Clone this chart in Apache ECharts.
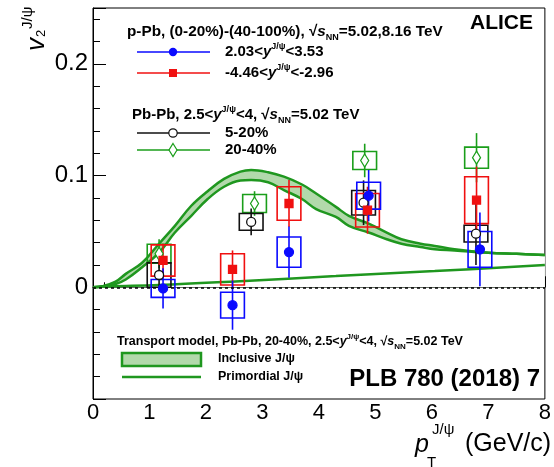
<!DOCTYPE html>
<html>
<head>
<meta charset="utf-8">
<script src="https://cdn.jsdelivr.net/npm/echarts@6/dist/echarts.min.js"></script>
<style>
  html, body, #main { margin: 0; width: 554px; height: 467px; background: #fff; }
</style>
</head>
<body>
<div id="main"></div>
<script>
// p-Pb, forward rapidity (blue) and backward rapidity (red)
const ptBlue = [1.24, 2.47, 3.47, 4.88, 6.85];
const v2Blue = [-0.001, -0.016, 0.0315, 0.082, 0.034];
const statBlue = [0.018, 0.022, 0.023, 0.023, 0.033];
const sysBlue = [0.008, 0.0115, 0.0135, 0.012, 0.016];

const ptRed = [1.24, 2.47, 3.47, 4.86, 6.79];
const v2Red = [0.024, 0.016, 0.075, 0.069, 0.078];
const statRed = [0.015, 0.017, 0.021, 0.021, 0.03];
const sysRed = [0.014, 0.014, 0.015, 0.015, 0.021];

// Pb-Pb 5-20% (black) and 20-40% (green)
const ptBlack = [1.17, 2.80, 4.79, 6.78];
const v2Black = [0.011, 0.0585, 0.0757, 0.048];
const statBlack = [0.012, 0.012, 0.02, 0.028];
const sysBlack = [0.011, 0.0075, 0.011, 0.0075];

const ptGreen = [1.17, 2.86, 4.81, 6.79];
const v2Green = [0.030, 0.075, 0.1135, 0.116];
const statGreen = [0.013, 0.011, 0.015, 0.022];
const sysGreen = [0.0085, 0.008, 0.008, 0.0095];

// transport model
const bandX = [0, 0.17, 0.4, 0.58, 0.87, 1.17, 1.45, 1.74, 2.03, 2.32, 2.61, 2.8, 3.1, 3.38, 3.7, 3.95, 4.3, 4.53, 4.88, 5.2, 5.46, 5.8, 6.05, 6.4, 7.0, 7.5, 8];
const bandHigh = [0, 0.001, 0.005, 0.012, 0.022, 0.039, 0.055, 0.073, 0.086, 0.097, 0.1035, 0.105, 0.103, 0.099, 0.092, 0.084, 0.072, 0.064, 0.057, 0.049, 0.043, 0.039, 0.037, 0.034, 0.031, 0.030, 0.029];
const bandLow = [0, 0.001, 0.003, 0.007, 0.018, 0.031, 0.049, 0.064, 0.079, 0.090, 0.0955, 0.096, 0.094, 0.087, 0.079, 0.070, 0.063, 0.055, 0.049, 0.043, 0.039, 0.036, 0.034, 0.033, 0.031, 0.030, 0.029];
const primX = [0, 0.3, 1.17, 2.6, 4.3, 4.83, 6.05, 8];
const primY = [0, 0.0008, 0.002, 0.0055, 0.010, 0.0115, 0.0145, 0.020];

const xTicks = [0, 8];
const yTicks = [-0.1, 0.25];

const FONT = 'Liberation Sans, Arial, Helvetica, sans-serif';
const BLUE = '#0a0aff', RED = '#f01010', BLACK = '#111', GREEN = '#1a9e1a';
const CURVE = '#1f971f', BANDFILL = '#b2d9ab';
const boxHalf = 0.21;

var chart = echarts.init(document.getElementById('main'), null, { renderer: 'canvas' });

function rows(pt, v, st, sy) {
  return pt.map((x, i) => [x, v[i], st[i], sy[i]]);
}

function errBox(color) {
  return function (params, api) {
    const x = api.value(0), y = api.value(1), st = api.value(2), sy = api.value(3);
    const a = api.coord([x - boxHalf, y + sy]);
    const b = api.coord([x + boxHalf, y - sy]);
    const t = api.coord([x, y + st]);
    const u = api.coord([x, y - st]);
    return {
      type: 'group',
      children: [
        { type: 'rect', shape: { x: a[0], y: a[1], width: b[0] - a[0], height: b[1] - a[1] },
          style: { fill: 'none', stroke: color, lineWidth: 1.6 } },
        { type: 'line', shape: { x1: t[0], y1: t[1], x2: u[0], y2: u[1] },
          style: { stroke: color, lineWidth: 1.6 } }
      ]
    };
  };
}

function errSeries(color, pt, v, st, sy) {
  return { type: 'custom', renderItem: errBox(color), data: rows(pt, v, st, sy), z: 3, silent: true };
}

function markSeries(symbol, size, color, fill, pt, v) {
  return {
    type: 'scatter', symbol: symbol, symbolSize: size, z: 5, silent: true,
    itemStyle: { color: fill, borderColor: color, borderWidth: 1.3, opacity: 1 },
    data: pt.map((x, i) => [x, v[i]])
  };
}

function modelLine(name, xs, ys, area) {
  return {
    type: 'line', name: name, smooth: 0.4, showSymbol: false, silent: true, z: 1,
    lineStyle: { color: CURVE, width: 2.5 },
    areaStyle: area ? { color: area, opacity: 1, origin: 0 } : undefined,
    data: xs.map((x, i) => [x, ys[i]])
  };
}

const rich = function (fs) {
  return {
    b: { fontFamily: FONT, fontWeight: 'bold', fontSize: fs, lineHeight: fs + 5, color: '#000' },
    i: { fontFamily: FONT, fontWeight: 'bold', fontStyle: 'italic', fontSize: fs, lineHeight: fs + 5, color: '#000' },
    sup: { fontFamily: FONT, fontWeight: 'bold', fontSize: Math.round(fs * 0.62), lineHeight: Math.round(fs * 0.62), verticalAlign: 'top', color: '#000' },
    sub: { fontFamily: FONT, fontWeight: 'bold', fontSize: Math.round(fs * 0.62), lineHeight: Math.round(fs * 0.62), verticalAlign: 'bottom', color: '#000' }
  };
};

function label(x, y, text, fs) {
  return { type: 'text', x: x, y: y, z: 20,
    style: { text: text, rich: rich(fs), verticalAlign: 'middle', align: 'left' } };
}

function legendLine(y, color, symbol) {
  const items = [{ type: 'line', shape: { x1: 137, y1: y, x2: 210, y2: y }, style: { stroke: color, lineWidth: 1.6 }, z: 20 }];
  if (symbol === 'circle') items.push({ type: 'circle', shape: { cx: 173, cy: y, r: 4.2 }, style: { fill: color }, z: 21 });
  if (symbol === 'rect') items.push({ type: 'rect', shape: { x: 169, y: y - 4, width: 8, height: 8 }, style: { fill: color }, z: 21 });
  if (symbol === 'open') items.push({ type: 'circle', shape: { cx: 173, cy: y, r: 4.2 }, style: { fill: '#fff', stroke: color, lineWidth: 1.2 }, z: 21 });
  if (symbol === 'diamond') items.push({ type: 'polygon', shape: { points: [[173, y - 6.5], [177, y], [173, y + 6.5], [169, y]] }, style: { fill: '#fff', stroke: color, lineWidth: 1.2 }, z: 21 });
  return items;
}

const graphics = [].concat(
  [label(127, 32, '{b|p-Pb, (0-20%)-(40-100%), √}{i|s}{sub|NN}{b|=5.02,8.16 TeV}', 15.3)],
  legendLine(52, BLUE, 'circle'),
  [label(225, 52, '{b|2.03<}{i|y}{sup|J/ψ}{b|<3.53}', 15)],
  legendLine(73, RED, 'rect'),
  [label(225, 73, '{b|-4.46<}{i|y}{sup|J/ψ}{b|<-2.96}', 15)],
  [label(132, 115, '{b|Pb-Pb, 2.5<}{i|y}{sup|J/ψ}{b|<4, √}{i|s}{sub|NN}{b|=5.02 TeV}', 15)],
  legendLine(133, BLACK, 'open'),
  [label(225, 133, '{b|5-20%}', 15)],
  legendLine(150, GREEN, 'diamond'),
  [label(225, 150, '{b|20-40%}', 15)],
  [{ type: 'text', x: 533, y: 23, z: 20, style: { text: 'ALICE', fontFamily: FONT, fontWeight: 'bold', fontSize: 21, fill: '#000', align: 'right', verticalAlign: 'middle' } }],
  [label(117, 342, '{b|Transport model, Pb-Pb, 20-40%, 2.5<}{i|y}{sup|J/ψ}{b|<4, √}{i|s}{sub|NN}{b|=5.02 TeV}', 12.5)],
  [{ type: 'rect', shape: { x: 122, y: 353, width: 79, height: 13 }, style: { fill: BANDFILL, stroke: CURVE, lineWidth: 2.5 }, z: 20 }],
  [label(218, 359, '{b|Inclusive J/ψ}', 12.5)],
  [{ type: 'line', shape: { x1: 122, y1: 377, x2: 201, y2: 377 }, style: { stroke: CURVE, lineWidth: 2.5 }, z: 20 }],
  [label(218, 377, '{b|Primordial J/ψ}', 12.5)],
  [{ type: 'text', x: 540, y: 379, z: 20, style: { text: 'PLB 780 (2018) 7', fontFamily: FONT, fontWeight: 'bold', fontSize: 24, fill: '#000', align: 'right', verticalAlign: 'middle' } }],
  // x-axis title
  [{ type: 'text', x: 415, y: 445, z: 20, style: { text: 'p', fontFamily: FONT, fontStyle: 'italic', fontSize: 25, fill: '#000', align: 'left', verticalAlign: 'middle' } },
   { type: 'text', x: 432, y: 430, z: 20, style: { text: 'J/ψ', fontFamily: FONT, fontSize: 15, fill: '#000', align: 'left', verticalAlign: 'middle' } },
   { type: 'text', x: 427, y: 463, z: 20, style: { text: 'T', fontFamily: FONT, fontSize: 15, fill: '#000', align: 'left', verticalAlign: 'middle' } },
   { type: 'text', x: 465, y: 444, z: 20, style: { text: '(GeV/c)', fontFamily: FONT, fontSize: 25, fill: '#000', align: 'left', verticalAlign: 'middle' } }],
  // y-axis title, rotated
  [{ type: 'group', x: 46, y: 51, rotation: Math.PI / 2, z: 20, children: [
    { type: 'text', x: 0, y: 4, style: { text: 'v', fontFamily: FONT, fontStyle: 'italic', fontSize: 26, fill: '#000', align: 'left', verticalAlign: 'bottom' } },
    { type: 'text', x: 14, y: 2, style: { text: '2', fontFamily: FONT, fontSize: 13, fill: '#000', align: 'left', verticalAlign: 'bottom' } },
    { type: 'text', x: 22, y: -11, style: { text: 'J/ψ', fontFamily: FONT, fontSize: 15, fill: '#000', align: 'left', verticalAlign: 'bottom' } }
  ] }]
);

var option = {
  animation: false,
  backgroundColor: '#fff',
  grid: { left: 93, right: 2, top: 8, bottom: 68, show: true, borderColor: '#000', borderWidth: 1, backgroundColor: 'transparent' },
  xAxis: {
    type: 'value', min: xTicks[0], max: xTicks[1], interval: 1,
    axisLine: { show: true, lineStyle: { color: '#000', width: 1 } },
    axisTick: { show: true, inside: true, length: 11, lineStyle: { color: '#000' } },
    minorTick: { show: true, splitNumber: 5, length: 5, lineStyle: { color: '#000' } },
    axisLabel: { fontFamily: FONT, fontSize: 22, color: '#000', margin: 3 },
    splitLine: { show: false }
  },
  yAxis: [{
    type: 'value', min: yTicks[0], max: yTicks[1], interval: 0.1,
    axisLine: { show: true, lineStyle: { color: '#000', width: 1 } },
    axisTick: { show: true, inside: true, length: 13, lineStyle: { color: '#000' } },
    axisLabel: {
      fontFamily: FONT, fontSize: 24, color: '#000', margin: 5,
      formatter: function (v) {
        if (v < -0.05 || v > 0.21) return '';
        return String(Math.round(v * 10) / 10);
      }
    },
    splitLine: { show: false }
  }, {
    type: 'value', position: 'left', min: yTicks[0], max: yTicks[1], interval: 0.02,
    axisLine: { show: false },
    axisTick: { show: true, inside: true, length: 7, lineStyle: { color: '#000' } },
    axisLabel: { show: false },
    splitLine: { show: false }
  }],
  graphic: graphics,
  series: [
    // inclusive band: fill under the upper curve, then blank out under the lower curve
    modelLine('inclusiveHigh', bandX, bandHigh, BANDFILL),
    modelLine('inclusiveLow', bandX, bandLow, '#ffffff'),
    {
      type: 'line', name: 'primordial', smooth: 0.4, showSymbol: false, silent: true, z: 2,
      lineStyle: { color: CURVE, width: 2.5 },
      data: primX.map((x, i) => [x, primY[i]]),
      markLine: {
        silent: true, symbol: 'none', label: { show: false },
        lineStyle: { color: '#000', type: [3, 3], width: 1.5 },
        data: [{ yAxis: 0 }]
      }
    },
    errSeries(GREEN, ptGreen, v2Green, statGreen, sysGreen),
    errSeries(BLACK, ptBlack, v2Black, statBlack, sysBlack),
    errSeries(RED, ptRed, v2Red, statRed, sysRed),
    errSeries(BLUE, ptBlue, v2Blue, statBlue, sysBlue),
    markSeries('diamond', [8, 13], GREEN, '#fff', ptGreen, v2Green),
    markSeries('circle', 9, BLACK, '#fff', ptBlack, v2Black),
    markSeries('rect', 8, RED, RED, ptRed, v2Red),
    markSeries('circle', 9, BLUE, BLUE, ptBlue, v2Blue)
  ]
};

chart.setOption(option);
</script>
</body>
</html>
